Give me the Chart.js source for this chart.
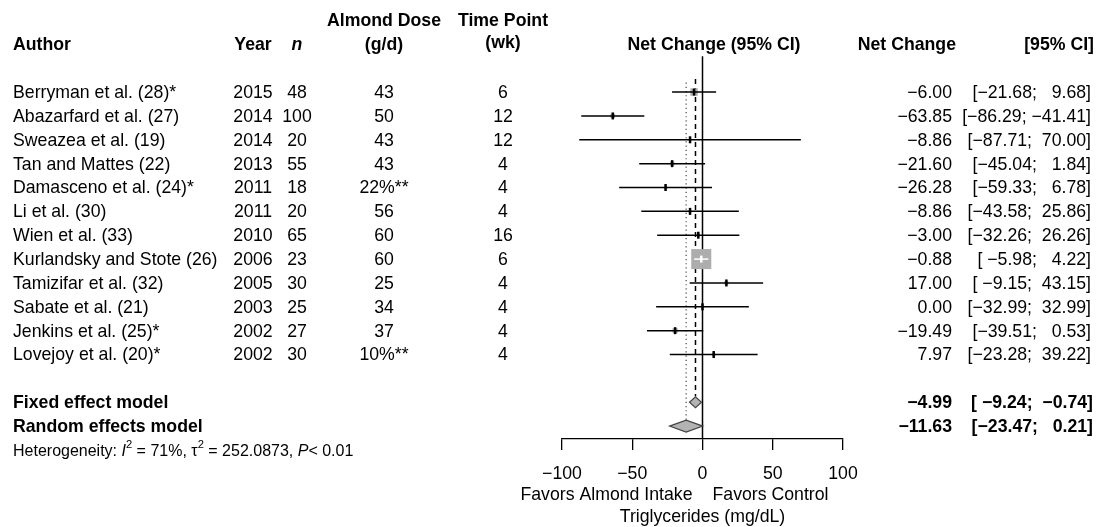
<!DOCTYPE html>
<html>
<head>
<meta charset="utf-8">
<title>Almonds and triglycerides – forest plot</title>
<script src="https://cdn.jsdelivr.net/npm/chart.js@4.4.1/dist/chart.umd.min.js"></script>
<style>
    html, body { margin: 0; padding: 0; background: #fff; }
    #wrap { width: 1098px; height: 527px; }
</style>
</head>
<body>
<div id="wrap"><canvas id="forest" width="1098" height="527"></canvas></div>
<script>
// --- study table ---
const authors = [
    'Berryman et al. (28)*', 'Abazarfard et al. (27)', 'Sweazea et al. (19)', 'Tan and Mattes (22)',
    'Damasceno et al. (24)*', 'Li et al. (30)', 'Wien et al. (33)', 'Kurlandsky and Stote (26)',
    'Tamizifar et al. (32)', 'Sabate et al. (21)', 'Jenkins et al. (25)*', 'Lovejoy et al. (20)*'
];
const years = [2015, 2014, 2014, 2013, 2011, 2011, 2010, 2006, 2005, 2003, 2002, 2002];
const sampleSizes = [48, 100, 20, 55, 18, 20, 65, 23, 30, 25, 27, 30];
const doses = ['43', '50', '43', '43', '22%**', '56', '60', '60', '25', '34', '37', '10%**'];
const weeks = [6, 12, 12, 4, 4, 4, 16, 6, 4, 4, 4, 4];
const netChange = [-6.00, -63.85, -8.86, -21.60, -26.28, -8.86, -3.00, -0.88, 17.00, 0.00, -19.49, 7.97];
const ciLower = [-21.68, -86.29, -87.71, -45.04, -59.33, -43.58, -32.26, -5.98, -9.15, -32.99, -39.51, -23.28];
const ciUpper = [9.68, -41.41, 70.00, 1.84, 6.78, 25.86, 26.26, 4.22, 43.15, 32.99, 0.53, 39.22];
// study weights (%), estimated from the square sizes
const weights = [9.5, 3.6, 0.3, 3.3, 1.7, 1.5, 2.1, 69.5, 2.6, 1.7, 4.5, 1.9];

// --- pooled estimates ---
const modelNames = ['Fixed effect model', 'Random effects model'];
const modelEstimate = [-4.99, -11.63];
const modelLower = [-9.24, -23.47];
const modelUpper = [-0.74, 0.21];

const xTicks = [-100, -50, 0, 50, 100];

// row positions (1 = first study, pooled rows after a blank line)
const studyRows = authors.map((a, i) => i + 1);
const modelRows = [14, 15];

const FONT = "'Liberation Sans', Arial, sans-serif";
const SIZE = 17.7;
const SQ_UNIT = 1.7;          // point radius per sqrt(weight)

const fmt = v => v.toFixed(2).replace('-', '\u2212');
const ciText = (lo, hi) => '[' + fmt(lo).padStart(6, ' ') + '; ' + fmt(hi).padStart(6, ' ') + ']';
const squareSide = i => Math.SQRT2 * SQ_UNIT * Math.sqrt(weights[i]);

function ciInsideSquare(chart, i) {
    const x = chart.scales.x;
    if (!x) return false;
    const span = x.getPixelForValue(ciUpper[i]) - x.getPixelForValue(ciLower[i]);
    return span < squareSide(i);
}

// vertical reference lines (no effect, fixed, random)
const referenceLines = {
    id: 'referenceLines',
    beforeDatasetsDraw(chart) {
        const { ctx, chartArea } = chart;
        const x = chart.scales.x, y = chart.scales.y;
        ctx.save();
        ctx.strokeStyle = '#000';
        ctx.lineWidth = 1.5;
        ctx.beginPath();
        ctx.moveTo(x.getPixelForValue(0), y.getPixelForValue(-0.5));
        ctx.lineTo(x.getPixelForValue(0), chartArea.bottom);
        ctx.stroke();

        ctx.setLineDash([5, 4]);
        ctx.lineWidth = 1.5;
        ctx.beginPath();
        ctx.moveTo(x.getPixelForValue(modelEstimate[0]), y.getPixelForValue(0.45));
        ctx.lineTo(x.getPixelForValue(modelEstimate[0]), y.getPixelForValue(modelRows[0]) - 6);
        ctx.stroke();

        ctx.setLineDash([1.2, 3]);
        ctx.strokeStyle = '#555';
        ctx.lineWidth = 1.3;
        ctx.beginPath();
        ctx.moveTo(x.getPixelForValue(modelEstimate[1]), y.getPixelForValue(0.6));
        ctx.lineTo(x.getPixelForValue(modelEstimate[1]), y.getPixelForValue(modelRows[1]) - 6);
        ctx.stroke();
        ctx.restore();
    }
};

// pooled diamonds
const diamonds = {
    id: 'diamonds',
    afterDatasetsDraw(chart) {
        const { ctx } = chart;
        const x = chart.scales.x, y = chart.scales.y;
        const halfH = [5.5, 6];
        ctx.save();
        modelRows.forEach((r, i) => {
            const cy = y.getPixelForValue(r);
            ctx.beginPath();
            ctx.moveTo(x.getPixelForValue(modelLower[i]), cy);
            ctx.lineTo(x.getPixelForValue(modelEstimate[i]), cy - halfH[i]);
            ctx.lineTo(x.getPixelForValue(modelUpper[i]), cy);
            ctx.lineTo(x.getPixelForValue(modelEstimate[i]), cy + halfH[i]);
            ctx.closePath();
            ctx.fillStyle = '#b3b3b3';
            ctx.fill();
            ctx.strokeStyle = '#444';
            ctx.lineWidth = 1.2;
            ctx.stroke();
        });
        ctx.restore();
    }
};

// table text around the plot
const tableText = {
    id: 'tableText',
    afterDraw(chart) {
        const { ctx, chartArea } = chart;
        const x = chart.scales.x, y = chart.scales.y;
        const reg = `${SIZE}px ${FONT}`;
        const bold = `bold ${SIZE}px ${FONT}`;
        const put = (s, px, py, align, font) => {
            ctx.font = font;
            ctx.textAlign = align;
            ctx.fillText(s, px, py);
        };
        ctx.save();
        ctx.fillStyle = '#000';
        ctx.textBaseline = 'middle';

        // headers
        const h1 = y.getPixelForValue(-1.98), h2 = y.getPixelForValue(-0.95);
        put('Author', 13, h2, 'left', bold);
        put('Year', 253, h2, 'center', bold);
        put('n', 297, h2, 'center', `italic bold ${SIZE}px ${FONT}`);
        put('Almond Dose', 384, h1, 'center', bold);
        put('(g/d)', 384, h2, 'center', bold);
        put('Time Point', 503, h1, 'center', bold);
        put('(wk)', 503, h2 - 2, 'center', bold);
        put('Net Change (95% CI)', 714, h2, 'center', bold);
        put('Net Change', 956, h2, 'right', bold);
        put('[95% CI]', 1094, h2, 'right', bold);

        // studies
        studyRows.forEach((r, i) => {
            const py = y.getPixelForValue(r) + 1;
            put(authors[i], 13, py, 'left', reg);
            put(String(years[i]), 253, py, 'center', reg);
            put(String(sampleSizes[i]), 297, py, 'center', reg);
            put(doses[i], 384, py, 'center', reg);
            put(String(weeks[i]), 503, py, 'center', reg);
            put(fmt(netChange[i]), 952, py, 'right', reg);
            put(ciText(ciLower[i], ciUpper[i]), 1091, py, 'right', reg);
        });

        // pooled rows
        modelRows.forEach((r, i) => {
            const py = y.getPixelForValue(r) + 1;
            put(modelNames[i], 13, py, 'left', bold);
            put(fmt(modelEstimate[i]), 952, py, 'right', bold);
            put(ciText(modelLower[i], modelUpper[i]), 1093, py, 'right', bold);
        });

        // heterogeneity line
        const hy = y.getPixelForValue(16.05);
        const hs = 16;
        const pieces = [
            ['Heterogeneity: ', `${hs}px ${FONT}`, 0],
            ['I', `italic ${hs}px ${FONT}`, 0],
            ['2', `${hs * 0.7}px ${FONT}`, -6],
            [' = 71%, \u03c4', `${hs}px ${FONT}`, 0],
            ['2', `${hs * 0.7}px ${FONT}`, -6],
            [' = 252.0873, ', `${hs}px ${FONT}`, 0],
            ['P', `italic ${hs}px ${FONT}`, 0],
            ['< 0.01', `${hs}px ${FONT}`, 0]
        ];
        let hx = 13;
        ctx.textAlign = 'left';
        pieces.forEach(([s, f, dy]) => {
            ctx.font = f;
            ctx.fillText(s, hx, hy + dy);
            hx += ctx.measureText(s).width;
        });

        // axis captions
        const zx = x.getPixelForValue(0);
        put('Favors Almond Intake', zx - 10, chartArea.bottom + 56, 'right', reg);
        put('Favors Control', zx + 10, chartArea.bottom + 56, 'left', reg);
        put('Triglycerides (mg/dL)', zx, chartArea.bottom + 78, 'center', reg);
        ctx.restore();
    }
};

const squareData = studyRows.map((r, i) => ({ x: netChange[i], y: r }));

const ciDatasets = authors.map((a, i) => ({
    type: 'line',
    label: a,
    data: [{ x: ciLower[i], y: studyRows[i] }, { x: ciUpper[i], y: studyRows[i] }],
    borderColor: ctx => ciInsideSquare(ctx.chart, i) ? '#fff' : '#000',
    borderWidth: 1.5,
    pointRadius: 0,
    order: 2
}));

new Chart(document.getElementById('forest'), {
    type: 'scatter',
    data: {
        datasets: [
            {
                label: 'weight',
                data: squareData,
                pointStyle: 'rect',
                pointRadius: ctx => SQ_UNIT * Math.sqrt(weights[ctx.dataIndex]),
                pointBackgroundColor: '#adadad',
                pointBorderWidth: 0,
                order: 3
            },
            ...ciDatasets,
            {
                label: 'estimate',
                data: squareData,
                pointStyle: 'line',
                pointRotation: 90,
                pointRadius: 3.5,
                pointBorderWidth: 2.5,
                pointBorderColor: ctx => ciInsideSquare(ctx.chart, ctx.dataIndex) ? '#fff' : '#000',
                order: 1
            }
        ]
    },
    options: {
        responsive: false,
        animation: false,
        devicePixelRatio: 1,
        // top padding covers the largest square's overflow
        layout: { padding: { left: 562, right: 255, top: 15, bottom: 0 } },
        plugins: { legend: { display: false }, tooltip: { enabled: false } },
        scales: {
            x: {
                type: 'linear',
                min: -100,
                max: 100,
                afterBuildTicks: scale => { scale.ticks = xTicks.map(v => ({ value: v })); },
                afterFit: scale => { scale.height = 88; },
                ticks: {
                    color: '#000',
                    padding: 13,
                    font: { family: FONT, size: SIZE },
                    callback: v => String(v).replace('-', '\u2212')
                },
                grid: { drawOnChartArea: false, drawTicks: true, tickLength: 11, color: '#000', lineWidth: 1.3 },
                border: { display: true, color: '#000', width: 1.3 }
            },
            y: {
                type: 'linear',
                display: false,
                reverse: true,
                min: -2.23,
                max: 15.54
            }
        }
    },
    plugins: [referenceLines, diamonds, tableText]
});
</script>
</body>
</html>
